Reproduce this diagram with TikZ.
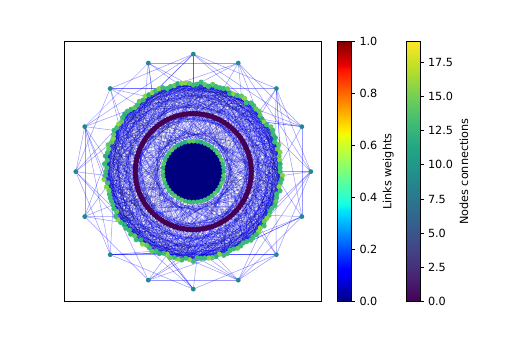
\documentclass[tikz,border=0pt]{standalone}
\usepackage{fontspec}
\setmainfont{DejaVu Sans}
\pgfdeclarelayer{bg}
\pgfdeclarelayer{edges}
\pgfsetlayers{bg,edges,main}
\definecolor{vir0}{HTML}{440154}
\definecolor{vir1}{HTML}{482475}
\definecolor{vir2}{HTML}{414487}
\definecolor{vir3}{HTML}{355F8D}
\definecolor{vir4}{HTML}{2A788E}
\definecolor{vir5}{HTML}{21918C}
\definecolor{vir6}{HTML}{22A884}
\definecolor{vir7}{HTML}{44BF70}
\definecolor{vir8}{HTML}{7AD151}
\definecolor{vir9}{HTML}{BDDF26}
\definecolor{vir10}{HTML}{FDE725}
\definecolor{vteal9}{HTML}{23898E}
\definecolor{vgreenA}{HTML}{3BBB75}
\definecolor{vgreenB}{HTML}{5EC962}
\definecolor{vygreen}{HTML}{86D549}
\definecolor{vtealg}{HTML}{29AF7F}
\definecolor{jnavy}{HTML}{00007F}
\definecolor{jblue}{HTML}{0000FF}
\pgfdeclareverticalshading{jetmap}{100bp}{rgb(0bp)=(0,0,0.5); rgb(25bp)=(0,0,0.5); rgb(30.5bp)=(0,0,1); rgb(31.25bp)=(0,0,1); rgb(42bp)=(0,0.86,1); rgb(42.5bp)=(0,0.9,0.968); rgb(43.75bp)=(0.081,1,0.887); rgb(57bp)=(0.935,1,0.032); rgb(57.5bp)=(0.968,0.963,0); rgb(58bp)=(1,0.926,0); rgb(69.5bp)=(1,0.074,0); rgb(70.5bp)=(0.909,0,0); rgb(75bp)=(0.5,0,0); rgb(100bp)=(0.5,0,0)}
\pgfdeclareverticalshading{virmap}{100bp}{color(0bp)=(vir0); color(25bp)=(vir0); color(30bp)=(vir1); color(35bp)=(vir2); color(40bp)=(vir3); color(45bp)=(vir4); color(50bp)=(vir5); color(55bp)=(vir6); color(60bp)=(vir7); color(65bp)=(vir8); color(70bp)=(vir9); color(75bp)=(vir10); color(100bp)=(vir10)}
\begin{document}
\begin{tikzpicture}[x=1pt,y=-1pt,
  gdot/.style={circle,inner sep=0pt,minimum size=#1,draw=none},
  onode/.style={gdot=4.8pt,fill=vteal9},
  mnode/.style={gdot=5.2pt},
  pnode/.style={gdot=5.6pt,fill=vir0},
  inode/.style={gdot=4.8pt},
  medge/.style={draw=jblue,draw opacity=0.3,line width=0.4pt},
  medgeB/.style={draw=jnavy,draw opacity=0.35,line width=0.4pt},
  oedge/.style={draw=jblue,draw opacity=0.4,line width=0.5pt},
  iedge/.style={draw=jnavy,line width=1.4pt},
  lab/.style={font=\fontsize{11.25}{13.5}\selectfont,inner sep=0pt},
  cbtick/.style={line width=0.9pt},
  frameline/.style={line width=0.9pt}
]
\begin{pgfonlayer}{bg}
\fill[white] (0,0) rectangle (518,345);
\end{pgfonlayer}
\useasboundingbox (0,0) rectangle (518,345);
\pgfmathsetseed{2718}
\def\cx{193.3}
\def\cy{171.6}
% outer ring
\foreach \j in {0,...,15}{
  \pgfmathsetmacro\a{90-22.5*\j}
  \node[onode] (o\j) at ({\cx+117.5*cos(\a)},{\cy-117.5*sin(\a)}) {};
}
% middle ring
\foreach \i in {0,...,143}{
  \pgfmathsetmacro\a{90-2.5*\i}
  \pgfmathsetmacro\rr{88+1.8*rand}
  \pgfmathrandominteger{\colsel}{1}{20}
  \ifnum\colsel<12 \def\mcol{vgreenA}\else\ifnum\colsel<16 \def\mcol{vgreenB}\else\ifnum\colsel<19 \def\mcol{vygreen}\else\def\mcol{vtealg}\fi\fi\fi
  \node[mnode,fill=\mcol] (m\i) at ({\cx+\rr*cos(\a)},{\cy-\rr*sin(\a)}) {};
}
% purple ring
\foreach \i in {0,...,111}{
  \pgfmathsetmacro\a{90-3.2142857*\i}
  \node[pnode] (p\i) at ({\cx+58*cos(\a)},{\cy-58*sin(\a)}) {};
}
% inner ring
\foreach \i in {0,...,47}{
  \pgfmathsetmacro\a{90-7.5*\i}
  \pgfmathrandominteger{\colsel}{1}{10}
  \ifnum\colsel<8 \def\mcol{vgreenA}\else\ifnum\colsel<10 \def\mcol{vgreenB}\else\def\mcol{vtealg}\fi\fi
  \node[inode,fill=\mcol] (i\i) at ({\cx+30.5*cos(\a)},{\cy-30.5*sin(\a)}) {};
}
\begin{pgfonlayer}{edges}
  % middle chords
  \foreach \i in {0,...,143}{
    \foreach \k in {4,8,13,19,26,34,43,53,64}{
      \pgfmathrandominteger{\jit}{-1}{1}
      \pgfmathtruncatemacro\mt{mod(\i+\k+\jit,144)}
      \pgfmathrandominteger{\ee}{0}{2}
      \ifnum\ee=0 \draw[medgeB] (m\i.center) -- (m\mt.center);\else\draw[medge] (m\i.center) -- (m\mt.center);\fi
    }
  }
  % outer-outer
  \foreach \j in {0,...,15}{
    \pgfmathtruncatemacro\ja{mod(\j+1,16)}
    \pgfmathtruncatemacro\jb{mod(\j+2,16)}
    \pgfmathtruncatemacro\jc{mod(\j+3,16)}
    \draw[oedge] (o\j.center) -- (o\jb.center);
    \pgfmathrandominteger{\pp}{0}{2}
    \ifnum\pp=0 \draw[oedge] (o\j.center) -- (o\ja.center);\fi
    \ifnum\pp=1 \draw[oedge] (o\j.center) -- (o\jc.center);\fi
  }
  \draw[oedge] (o2.center) -- (o14.center);
  \draw[oedge] (o6.center) -- (o10.center);
  % outer-middle
  \foreach \j in {0,...,15}{
    \foreach \n in {1,...,5}{
      \pgfmathrandominteger{\dd}{-14}{14}
      \pgfmathtruncatemacro\mt{mod(9*\j+\dd+144,144)}
      \draw[oedge] (o\j.center) -- (m\mt.center);
    }
  }
  % inner chords (dense navy disk)
  \fill[jnavy] (\cx,\cy) circle[radius=28.5pt];
  \foreach \i in {0,...,47}{
    \foreach \k in {4,8,12,16,20,24}{
      \pgfmathtruncatemacro\mt{mod(\i+\k,48)}
      \draw[iedge] (i\i.center) -- (i\mt.center);
    }
  }
\end{pgfonlayer}
% axes frame
\draw[frameline] (64.5,41.3) rectangle (321.7,301.8);
% colorbar 1 (jet)
\shade[shading=jetmap] (337.5,41.5) rectangle (351.5,301.8);
\draw[frameline] (337.5,41.5) rectangle (351.5,301.8);
\foreach \n/\l in {0/0.0,1/0.2,2/0.4,3/0.6,4/0.8,5/1.0}{
  \pgfmathsetmacro\yy{301.8-260.3*\n/5}
  \draw[cbtick] (351.5,\yy) -- (355.4,\yy);
  \node[lab,anchor=west] (ta\n) at (359.3,\yy) {\l};
}
\node[lab,rotate=90] (lw) at (388.3,171.6) {Links weights};
% colorbar 2 (viridis)
\shade[shading=virmap] (406,41.5) rectangle (420,301.8);
\draw[frameline] (406,41.5) rectangle (420,301.8);
\foreach \n/\l in {0/0.0,1/2.5,2/5.0,3/7.5,4/10.0,5/12.5,6/15.0,7/17.5}{
  \pgfmathsetmacro\yy{301.8-260.3*2.5*\n/19}
  \draw[cbtick] (420,\yy) -- (423.9,\yy);
  \node[lab,anchor=west] (tb\n) at (427.8,\yy) {\l};
}
\node[lab,rotate=90] (nc) at (463.8,171.6) {Nodes connections};
\end{tikzpicture}
\end{document}
